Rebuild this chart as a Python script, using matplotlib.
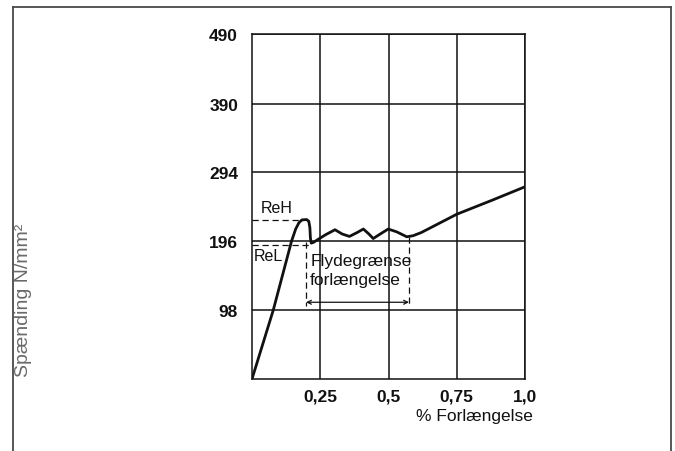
import matplotlib
matplotlib.use("Agg")
import matplotlib.pyplot as plt
from matplotlib.lines import Line2D

# ---- data ----
strain = [0.0, 0.078, 0.145, 0.160, 0.172, 0.183, 0.200, 0.208, 0.212, 0.214, 0.217,
          0.225, 0.245, 0.270, 0.304, 0.330, 0.357, 0.385, 0.408, 0.428, 0.444,
          0.470, 0.499, 0.530, 0.567, 0.590, 0.620, 0.750, 0.880, 1.0]
stress = [0, 98, 196, 213, 222, 226, 226.5, 224, 215, 200, 193,
          194, 199, 205, 212, 206, 202.5, 208, 213, 206, 199.5,
          206, 213, 209, 202, 203.5, 208, 234, 254, 273]

x_ticks = [0.25, 0.5, 0.75, 1.0]
x_tick_labels = ["0,25", "0,5", "0,75", "1,0"]
y_ticks = [98, 196, 294, 390, 490]
y_tick_labels = ["98", "196", "294", "390", "490"]

reh = 226          # upper yield strength
rel = 191          # lower yield strength
reh_x = 0.185
rel_x = 0.215
yield_start = 0.198
yield_end = 0.575
arrow_y = 109
dash_bottom = 104

ylabel = "Spænding N/mm²"
xlabel = "% Forlængelse"

plt.rcParams['font.family'] = ['Liberation Sans', 'DejaVu Sans']

fig = plt.figure(figsize=(6.75, 4.52), dpi=100)
ax = fig.add_axes([252/675, 1-380/452, 273/675, 345/452])

ink = "#111111"
ax.plot(strain, stress, color=ink, lw=2.0, solid_joinstyle="round", zorder=5)

ax.set_xlim(0, 1.0)
ax.set_ylim(0, 490)
ax.set_xticks(x_ticks)
ax.set_xticklabels(x_tick_labels)
ax.set_yticks(y_ticks)
ax.set_yticklabels(y_tick_labels)
ax.tick_params(length=0, labelsize=12.5, colors=ink)
ax.tick_params(axis="y", pad=10)
ax.tick_params(axis="x", pad=7)
for lab in ax.get_xticklabels() + ax.get_yticklabels():
    lab.set_fontweight("bold")
ax.grid(True, color=ink, lw=1.1)
for s in ax.spines.values():
    s.set_color(ink)
    s.set_linewidth(1.1)

dash = dict(color=ink, lw=0.9, dashes=(5, 3))
ax.plot([0, reh_x], [reh, reh], **dash)
ax.plot([0, rel_x], [rel, rel], **dash)
ax.plot([yield_start, yield_start], [194, dash_bottom], **dash)
ax.plot([yield_end, yield_end], [202, dash_bottom], **dash)
ax.annotate("", xy=(yield_start, arrow_y), xytext=(yield_end, arrow_y),
            arrowprops=dict(arrowstyle="<->", color=ink, lw=0.9,
                            mutation_scale=7, shrinkA=0, shrinkB=0))

ax.text(0.09, 244, "ReH", fontsize=11.5, ha="center", va="center", color=ink)
ax.text(0.005, 175, "ReL", fontsize=11.5, ha="left", va="center", color=ink)
ax.text(0.213, 168, "Flydegrænse", fontsize=12.5, ha="left", va="center", color=ink)
ax.text(0.213, 142, "forlængelse", fontsize=12.5, ha="left", va="center", color=ink)

ax.text(1.03, -0.105, xlabel, transform=ax.transAxes, fontsize=12.5,
        ha="right", va="center", color=ink)

fig.text(23.5/675, 1-300/452, ylabel, rotation=90, fontsize=14,
         ha="center", va="center", color="#6a6a6a")

# frame
fc = "#4a4a4a"
fig.add_artist(Line2D([13/675, 13/675], [0, 1-8/452], color=fc, lw=1.3))
fig.add_artist(Line2D([671/675, 671/675], [0, 1-8/452], color=fc, lw=1.3))
fig.add_artist(Line2D([13/675, 671/675], [1-8/452, 1-8/452], color=fc, lw=1.3))

fig.savefig("out.png", dpi=100)
